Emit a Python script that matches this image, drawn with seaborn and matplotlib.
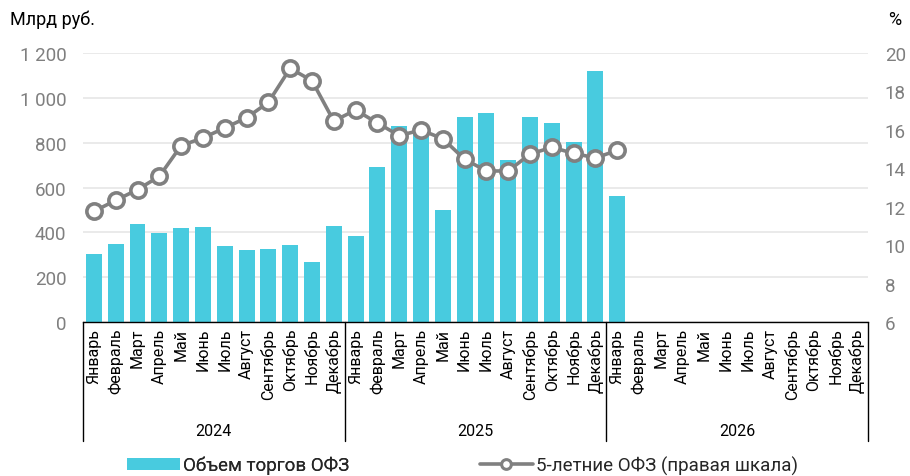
import numpy as np
import pandas as pd
import matplotlib
matplotlib.use("Agg")
import matplotlib.pyplot as plt
import matplotlib.transforms as mtransforms
from matplotlib.patches import Patch
from matplotlib.lines import Line2D
import seaborn as sns

months = ["Январь", "Февраль", "Март", "Апрель", "Май", "Июнь", "Июль",
          "Август", "Сентябрь", "Октябрь", "Ноябрь", "Декабрь"]
years = ["2024", "2025", "2026"]

volume = [305, 349, 436, 399, 419, 422, 339, 323, 326, 342, 269, 428,
          382, 690, 876, 875, 501, 916, 934, 721, 913, 889, 801, 1120,
          562]
yield5 = [11.76, 12.33, 12.89, 13.58, 15.18, 15.58, 16.10, 16.63, 17.43, 19.20, 18.56, 16.46,
          17.03, 16.36, 15.70, 15.99, 15.54, 14.47, 13.86, 13.86, 14.74, 15.09, 14.78, 14.54,
          14.93]

bar_label = "Объем торгов ОФЗ"
line_label = "5-летние ОФЗ (правая шкала)"

BAR_C = "#48CBDF"
LINE_C = "#808080"
TICK_C = "#7F7F7F"

sns.set_theme(style="white")
plt.rcParams["font.family"] = ["Roboto", "DejaVu Sans"]

n_total = len(months) * len(years)
keys = [f"{y}-{m}" for y in years for m in months]
vol_full = volume + [np.nan] * (n_total - len(volume))
df = pd.DataFrame({"key": keys, "volume": vol_full})
df_line = pd.DataFrame({"pos": np.arange(len(yield5)), "yield": yield5})

fig = plt.figure(figsize=(9.10, 4.77), dpi=100)
ax = fig.add_axes([83 / 910, 1 - 323 / 477, (868 - 83) / 910, (323 - 54) / 477])

sns.barplot(data=df, x="key", y="volume", order=keys, color=BAR_C,
            saturation=1, width=0.73, ax=ax, edgecolor="none")
ax.set_xlim(-0.5, n_total - 0.5)
ax.set_ylim(0, 1200)
ax.set_yticks(range(0, 1201, 200))
ax.set_yticklabels([f"{v:,}".replace(",", " ") for v in range(0, 1201, 200)])
ax.yaxis.grid(True, color="#E6E6E6", lw=1.2)
ax.set_axisbelow(True)
ax.set_xlabel("")
ax.set_ylabel("")
for s in ["top", "right", "left"]:
    ax.spines[s].set_visible(False)
ax.spines["bottom"].set_color("black")
ax.spines["bottom"].set_linewidth(1.0)
ax.set_xticks(range(n_total))
ax.set_xticklabels(months * len(years), rotation=90, fontsize=11.5, color="black")
ax.tick_params(axis="x", length=0, pad=4)
ax.tick_params(axis="y", length=0, pad=12, labelsize=13.5, colors=TICK_C)

ax2 = ax.twinx()
sns.lineplot(data=df_line, x="pos", y="yield", ax=ax2, color=LINE_C, lw=2.6,
             marker="o", markersize=11, markerfacecolor="white",
             markeredgecolor=LINE_C, markeredgewidth=2.6)
ax2.set_ylim(6, 20)
ax2.set_yticks(range(6, 21, 2))
ax2.set_xlim(-0.5, n_total - 0.5)
ax2.set_xlabel("")
ax2.set_ylabel("")
for s in ["top", "right", "left", "bottom"]:
    ax2.spines[s].set_visible(False)
ax2.tick_params(axis="y", length=0, pad=12, labelsize=13.5, colors=TICK_C)

# year separators and labels
trans = mtransforms.blended_transform_factory(ax.transData, ax.transAxes)
depth = (442 - 323) / (323 - 54)
for b in [-0.5, 11.5, 23.5, 35.5]:
    ax.plot([b, b], [0, -depth], transform=trans, color="black", lw=1.0,
            clip_on=False)
for i, y in enumerate(years):
    ax.text(i * 12 + 5.5, -(432 - 323) / (323 - 54), y, transform=trans,
            ha="center", va="center", fontsize=11.5, color="black")

fig.text(10 / 910, 1 - 20 / 477, "Млрд руб.", ha="left", va="center",
         fontsize=13, color="black")
fig.text(888 / 910, 1 - 20 / 477, "%", ha="left", va="center",
         fontsize=13, color="black")

h_bar = Patch(facecolor=BAR_C, edgecolor="none", label=bar_label)
h_line = Line2D([0], [0], color=LINE_C, lw=2.6, marker="o", markersize=7,
                markerfacecolor="white", markeredgecolor=LINE_C,
                markeredgewidth=2.2, label=line_label)
leg1 = fig.legend(handles=[h_bar], loc="center left",
                  bbox_to_anchor=(127 / 910, 1 - 466 / 477),
                  frameon=False, fontsize=13.5, handlelength=2.8, handleheight=0.6,
                  handletextpad=0.2, borderpad=0, borderaxespad=0)
leg2 = fig.legend(handles=[h_line], loc="center left",
                  bbox_to_anchor=(480 / 910, 1 - 466 / 477),
                  frameon=False, fontsize=13.5, handlelength=2.8,
                  handletextpad=0.2, borderpad=0, borderaxespad=0)
fig.add_artist(leg1)

fig.savefig("out.png", dpi=100)
